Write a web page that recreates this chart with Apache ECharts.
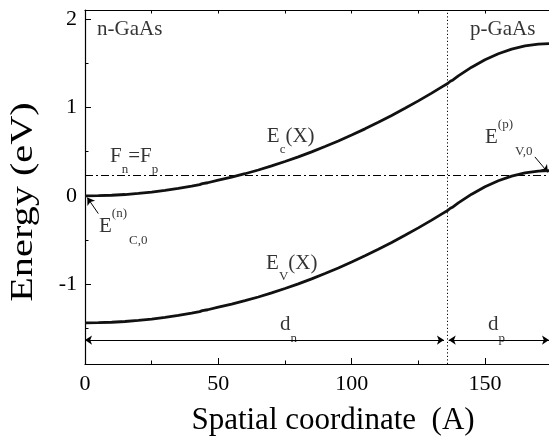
<!DOCTYPE html>
<html><head><meta charset="utf-8">
<script src="https://cdn.jsdelivr.net/npm/echarts@6/dist/echarts.min.js"></script>
<style>html,body{margin:0;padding:0;background:#fff}#c{width:549px;height:437px}</style>
</head><body><div id="c"></div>
<script>
// ---- data ----
const xPos = [0,5,10,15,20,25,30,35,40,43,44,46,50,55,60,65,70,75,80,85,90,95,100,105,110,115,120,125,130,134,136,137,138,139,140,145,150,155,160,165,170,174];
const ecValues = [0.000,0.002,0.007,0.015,0.027,0.043,0.062,0.084,0.110,0.127,0.138,0.148,0.177,0.212,0.250,0.292,0.338,0.388,0.440,0.497,0.557,0.620,0.687,0.757,0.831,0.909,0.990,1.073,1.161,1.234,1.270,1.295,1.310,1.333,1.355,1.454,1.538,1.606,1.658,1.694,1.715,1.720];
const evValues = [-1.435,-1.433,-1.428,-1.420,-1.408,-1.392,-1.373,-1.351,-1.325,-1.308,-1.297,-1.287,-1.258,-1.223,-1.185,-1.143,-1.097,-1.047,-0.995,-0.938,-0.878,-0.815,-0.748,-0.678,-0.604,-0.526,-0.445,-0.362,-0.274,-0.201,-0.165,-0.140,-0.125,-0.102,-0.080,0.019,0.103,0.171,0.223,0.259,0.280,0.285];
const fermiLevel = 0.235;
const junctionX = 135.8;
const deviceEnd = 174;
const yMin = -1.9, yMax = 2.1;
const dArrowY = -1.63;
const dnEnd = 134.6, dpStart = 136.4;
const xMajorTicks = [0,50,100,150];
const xMinorTicks = [25,75,125];
const xTopTicks = [0,25,50,75,100,125,150];
const yMajorTicks = [-1,0,1,2];
const yMinorTicks = [-1.5,-0.5,0.5,1.5];
// annotations (data coordinates of label anchor: left edge, vertical centre)
const annX = [4.5, 144.4, 68.2, 9.4, 5.25, 67.9, 150.0, 73.1, 151.1];
const annY = [1.884, 1.884, 0.675, 0.449, -0.348, -0.76, 0.658, -1.458, -1.458];
const annText = ['{b|n-GaAs}','{b|p-GaAs}','{b|E}{sub|c}{b|(X)}','{b|F}{sub|n}{b|=F}{sub|p}',
  '{b|E}{sup|(n)}{sub2|C,0}','{b|E}{sub|V}{b|(X)}','{b|E}{sup|(p)}{sub2|V,0}','{b|d}{sub|n}','{b|d}{sub|p}'];
const pointerN = [[4.99,-0.20],[0.86,-0.02]];
const pointerP = [[168.7,0.44],[173.6,0.265]];

const FONT = '"Liberation Serif","DejaVu Serif",serif';
const INK = '#000';

const chart = echarts.init(document.getElementById('c'), null, {renderer:'canvas'});

const tickStyle = {color: INK, width: 1};
function xAxisBase(extra){
  return Object.assign({type:'value', min:0, max:deviceEnd, splitLine:{show:false}}, extra);
}
function yAxisBase(extra){
  return Object.assign({type:'value', min:yMin, max:yMax, splitLine:{show:false}}, extra);
}

const option = {
  animation:false,
  backgroundColor:'#fff',
  grid:{left:85, right:0, top:10, bottom:73, containLabel:false},
  xAxis:[
    xAxisBase({position:'bottom',
      axisLine:{show:true, onZero:false, lineStyle:{color:INK, width:1.2}},
      axisTick:{show:true, inside:true, length:6, lineStyle:tickStyle, customValues:xMajorTicks},
      axisLabel:{show:true, customValues:xMajorTicks, margin:9, color:INK, fontFamily:FONT, fontSize:22}}),
    xAxisBase({position:'bottom',
      axisLine:{show:false, onZero:false},
      axisTick:{show:true, inside:true, length:3.5, lineStyle:tickStyle, customValues:xMinorTicks},
      axisLabel:{show:false}}),
    xAxisBase({position:'top',
      axisLine:{show:true, onZero:false, lineStyle:{color:INK, width:1.2}},
      axisTick:{show:true, inside:true, length:3.5, lineStyle:tickStyle, customValues:xTopTicks},
      axisLabel:{show:false}})
  ],
  yAxis:[
    yAxisBase({position:'left',
      axisLine:{show:true, onZero:false, lineStyle:{color:INK, width:1.2}},
      axisTick:{show:true, inside:true, length:6, lineStyle:tickStyle, customValues:yMajorTicks},
      axisLabel:{show:true, customValues:yMajorTicks, margin:8, color:INK, fontFamily:FONT, fontSize:22}}),
    yAxisBase({position:'left',
      axisLine:{show:false, onZero:false},
      axisTick:{show:true, inside:true, length:3.5, lineStyle:tickStyle, customValues:yMinorTicks},
      axisLabel:{show:false}})
  ],
  graphic:[
    {type:'text', x:333, y:421, silent:true,
     style:{text:'Spatial coordinate  (A)', fontFamily:FONT, fontSize:31, fill:INK, align:'center', verticalAlign:'middle', textAlign:'center', textVerticalAlign:'middle'}},
    {type:'text', x:24, y:202, rotation:Math.PI/2, scaleX:1.3, silent:true,
     style:{text:'Energy (eV)', fontFamily:FONT, fontSize:31, fill:INK, align:'center', verticalAlign:'middle', textAlign:'center', textVerticalAlign:'middle'}}
  ],
  series:[
    {type:'line', name:'Ec', xAxisIndex:0, yAxisIndex:0, showSymbol:false, symbol:'none',
     data: xPos.map((x,i)=>[x, ecValues[i]]),
     lineStyle:{color:'#111', width:2.8}, z:5,
     markLine:{silent:true, symbol:'none', label:{show:false},
       data:[
         {yAxis:fermiLevel, lineStyle:{color:INK, width:1, type:[8,3,2,3]}},
         {xAxis:junctionX, lineStyle:{color:INK, width:1, type:[1.2,2.3]}}
       ]}
    },
    {type:'line', name:'Ev', xAxisIndex:0, yAxisIndex:0, showSymbol:false, symbol:'none',
     data: xPos.map((x,i)=>[x, evValues[i]]),
     lineStyle:{color:'#111', width:2.8}, z:5,
     markLine:{silent:true, label:{show:false}, symbolSize:7,
       lineStyle:{color:INK, width:1, type:'solid'},
       data:[
         [{coord:[0,dArrowY], symbol:'arrow'},{coord:[dnEnd,dArrowY], symbol:'arrow'}],
         [{coord:[dpStart,dArrowY], symbol:'arrow'},{coord:[deviceEnd,dArrowY], symbol:'arrow'}],
         [{coord:pointerN[0], symbol:'none'},{coord:pointerN[1], symbol:'arrow'}],
         [{coord:pointerP[0], symbol:'none'},{coord:pointerP[1], symbol:'arrow'}]
       ]}
    },
    {type:'scatter', xAxisIndex:0, yAxisIndex:0, symbolSize:0, silent:true, z:6,
     data: annX.map((x,i)=>({value:[x, annY[i]]})),
     label:{show:true, position:'right', distance:0,
       formatter:(p)=>annText[p.dataIndex],
       rich:{
         b:{fontFamily:FONT, fontSize:21, color:INK, lineHeight:40, verticalAlign:'middle'},
         sub:{fontFamily:FONT, fontSize:13, color:INK, lineHeight:18, verticalAlign:'bottom'},
         sup:{fontFamily:FONT, fontSize:13, color:INK, lineHeight:17, verticalAlign:'top'},
         sub2:{fontFamily:FONT, fontSize:13, color:INK, lineHeight:12, verticalAlign:'bottom', padding:[0,0,0,2]}
       }}
    }
  ]
};
chart.setOption(option);
</script>
</body></html>
